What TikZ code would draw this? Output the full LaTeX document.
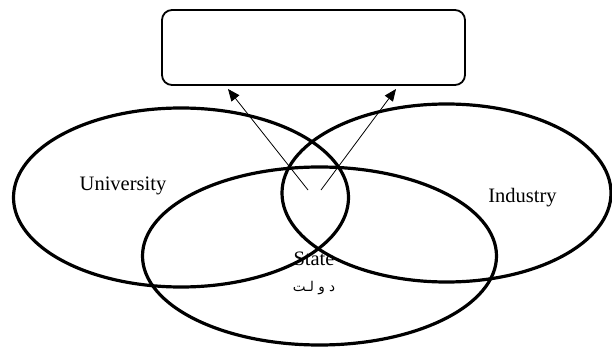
\documentclass[tikz,border=0pt]{standalone}
\usepackage{fontspec}
\setmainfont{Liberation Serif}
\newfontfamily\arabicfont[Script=Arabic]{DejaVu Sans}
\TeXXeTstate=1
\usetikzlibrary{shapes.geometric,arrows.meta}

\begin{document}
\begin{tikzpicture}[x=1pt,y=-1pt]
\useasboundingbox (0,0) rectangle (612,347);
\node[style={rectangle,draw,line width=1.8pt,rounded corners=10pt,minimum width=303pt,minimum height=75pt,inner sep=0pt}] (goal) at (313.5,47.5) {};
\node[style={ellipse,draw,line width=3.2pt,minimum width=335pt,minimum height=179pt,inner sep=0pt}] (univ) at (181,197.5) {};
\node[style={ellipse,draw,line width=3.2pt,minimum width=329pt,minimum height=178pt,inner sep=0pt}] (ind) at (446.5,193) {};
\node[style={ellipse,draw,line width=3.2pt,minimum width=354pt,minimum height=178pt,inner sep=0pt}] (state) at (319.5,256) {};
\node[anchor=base,font=\fontsize{20.5}{24}\selectfont] (univlabel) at (123,191) {University};
\node[anchor=base,font=\fontsize{20.5}{24}\selectfont] (indlabel) at (522.5,203) {Industry};
\node[anchor=base,font=\fontsize{20.5}{24}\selectfont] (statelabel) at (314,265.7) {State};
\node[font=\fontsize{13.5}{16}\selectfont] (statelabelfa) at (314,288) {\arabicfont\beginR د و لـت\endR};
\coordinate (tailL) at (308,190);
\coordinate (tailR) at (321,190);
\coordinate (headL) at (228,89);
\coordinate (headR) at (396,89);
\path[draw,line width=0.8pt,-{Triangle[length=12pt,width=10pt]}] (tailL) -- (headL);
\path[draw,line width=0.8pt,-{Triangle[length=12pt,width=10pt]}] (tailR) -- (headR);
\end{tikzpicture}
\end{document}
